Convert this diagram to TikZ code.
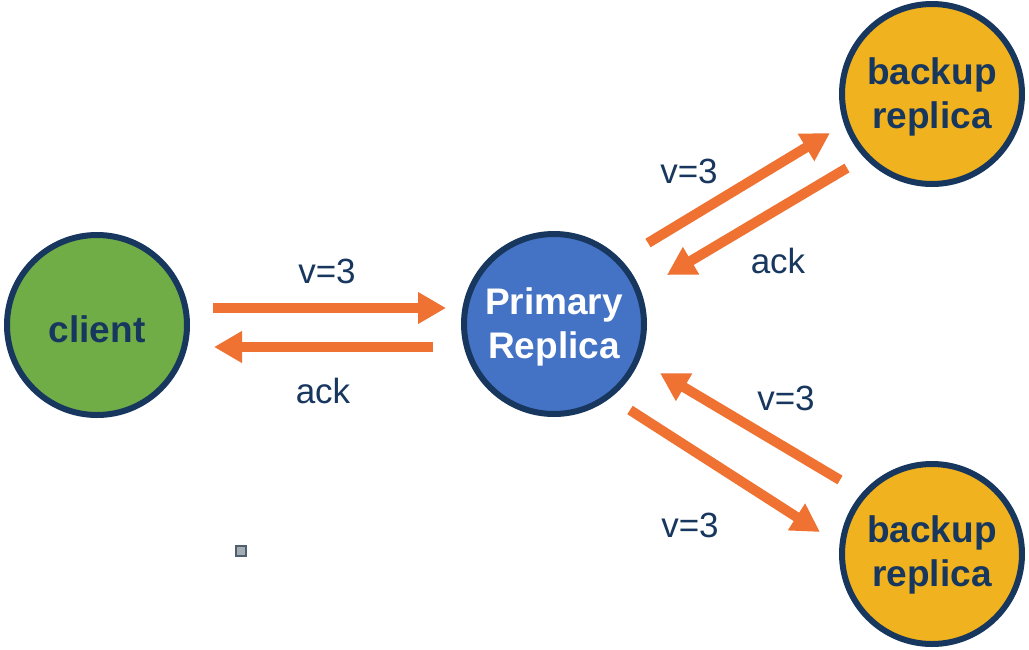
\documentclass[tikz,border=0pt]{standalone}
\usepackage{fontspec}
\setmainfont{Liberation Sans}
\usetikzlibrary{arrows.meta}
\definecolor{navy}{HTML}{17375E}
\definecolor{cgreen}{HTML}{70AD47}
\definecolor{cblue}{HTML}{4472C4}
\definecolor{cgold}{HTML}{F0B21E}
\definecolor{corange}{HTML}{EF7232}
\definecolor{sqborder}{HTML}{4F5F6C}
\definecolor{sqfill}{HTML}{A3ADB6}
\begin{document}
\begin{tikzpicture}[x=1pt,y=-1pt,
  disc/.style={circle,draw=navy,line width=6pt,minimum size=180pt,inner sep=0pt,
    font=\fontsize{37}{44}\selectfont\bfseries,align=center,text=navy},
  arr/.style={draw=corange,line width=10pt,-{Triangle[length=28pt,width=30pt]}},
  lbl/.style={font=\fontsize{35}{40}\selectfont,text=navy,anchor=base,inner sep=0pt}]
\useasboundingbox[fill=white] (0,0) rectangle (1029,649);
% nodes
\node[disc,fill=cgreen,text height=34pt,text depth=0pt] (cl) at (97,325) {client};
\node[disc,fill=cblue,text=white,text height=76pt,text depth=8pt] (pri) at (554,324) {Primary\\Replica};
\node[disc,fill=cgold,text height=76pt,text depth=8pt] (bt) at (932,94) {backup\\replica};
\node[disc,fill=cgold,text height=72pt,text depth=8pt] (bb) at (932,554) {backup\\replica};
% arrow end points
\coordinate (a1s) at (213,308); \coordinate (a1e) at (446,308);
\coordinate (a2s) at (433,347); \coordinate (a2e) at (214,347);
\coordinate (b1s) at (648,243); \coordinate (b1e) at (830,133);
\coordinate (b2s) at (847,168); \coordinate (b2e) at (667,275);
\coordinate (c1s) at (840,480); \coordinate (c1e) at (660,373);
\coordinate (c2s) at (630,410); \coordinate (c2e) at (820,532);
% connectors
\draw[arr] (a1s) -- (a1e);
\draw[arr] (a2s) -- (a2e);
\draw[arr] (b1s) -- (b1e);
\draw[arr] (b2s) -- (b2e);
\draw[arr] (c1s) -- (c1e);
\draw[arr] (c2s) -- (c2e);
% labels
\node[lbl] (l1) at (327,283) {v=3};
\node[lbl] (l2) at (323,403) {ack};
\node[lbl] (l3) at (689,183) {v=3};
\node[lbl] (l4) at (778,273) {ack};
\node[lbl] (l5) at (786,410) {v=3};
\node[lbl] (l6) at (690,537) {v=3};
% small square
\node[draw=sqborder,fill=sqfill,line width=2pt,minimum size=10pt,inner sep=0pt] (sq) at (241,551) {};
\end{tikzpicture}
\end{document}
